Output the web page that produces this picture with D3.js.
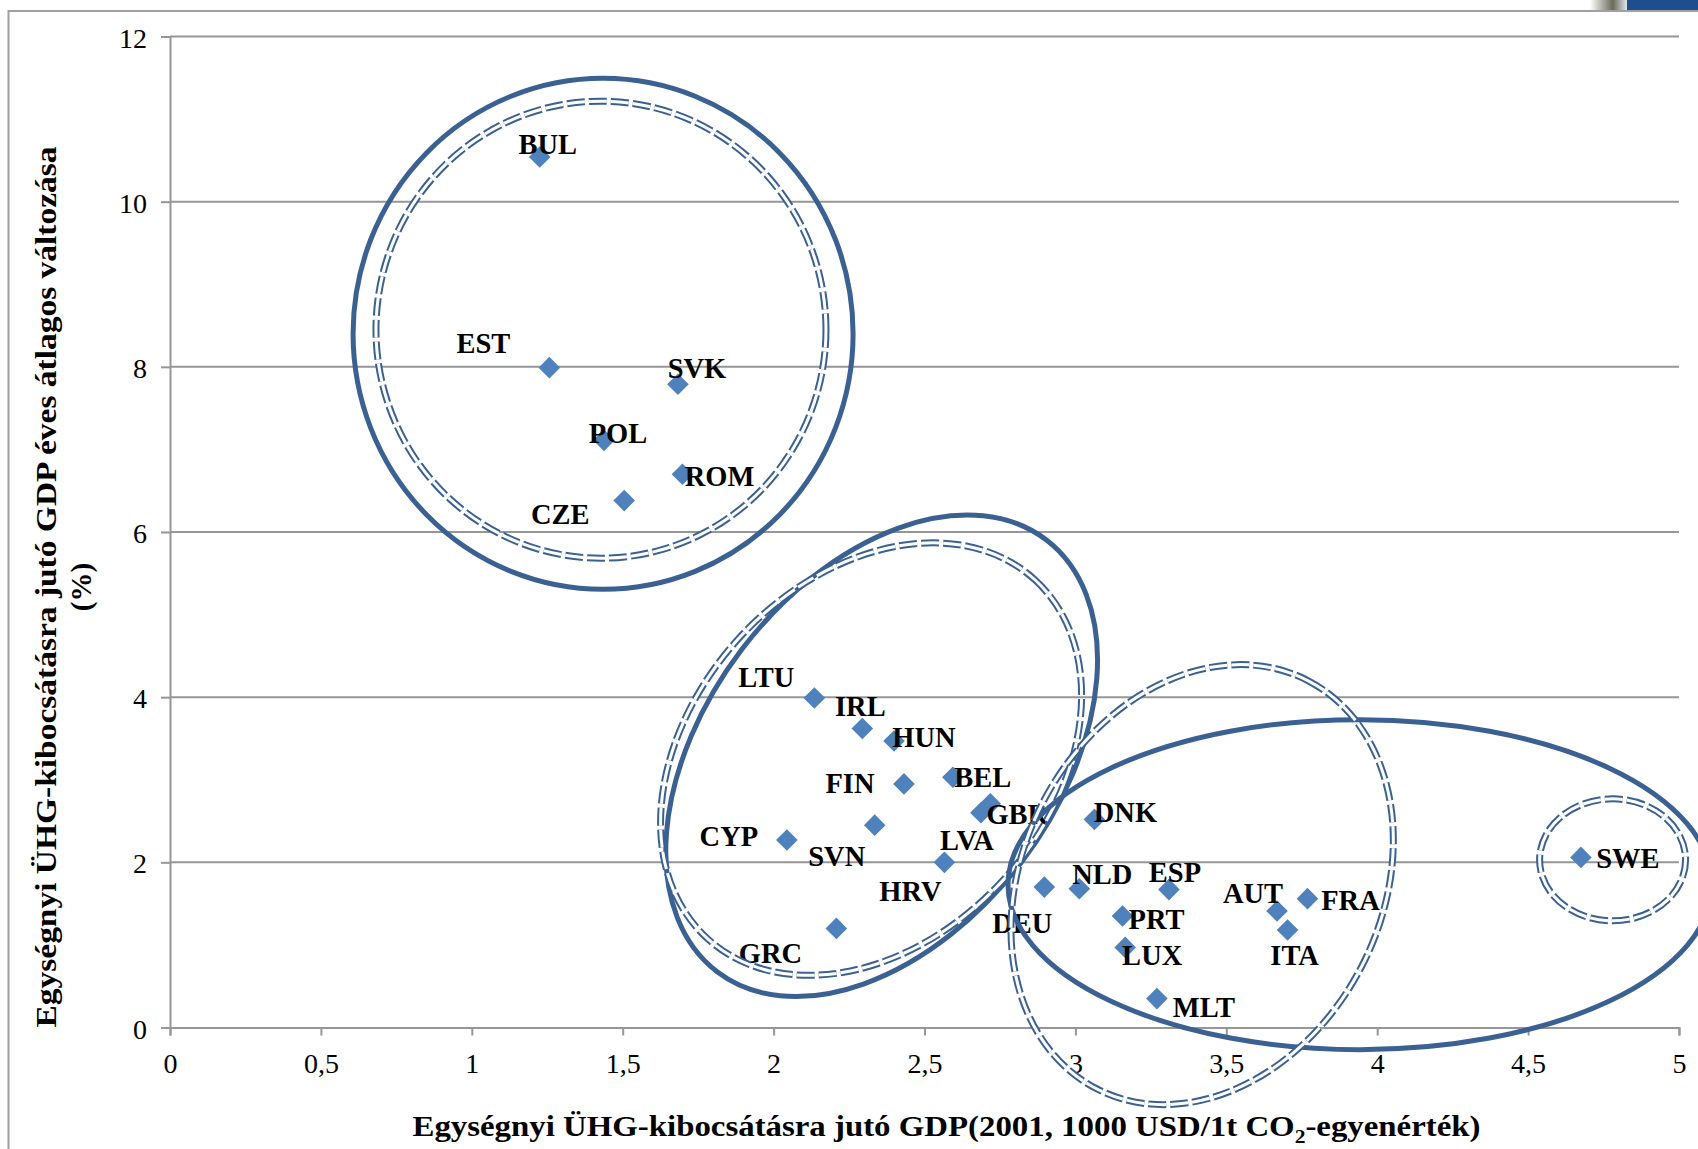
<!DOCTYPE html>
<html>
<head>
<meta charset="utf-8">
<script src="https://cdn.jsdelivr.net/npm/d3@7"></script>
<style>
  html, body { margin: 0; padding: 0; background: #ffffff; }
  svg { display: block; }
</style>
</head>
<body>
<div id="chart"></div>
<script>
// ---- data ----
const countries = ["BUL","EST","SVK","POL","ROM","CZE","LTU","IRL","HUN","FIN","BEL","GBR","LVA","CYP","SVN","HRV","GRC","DEU","NLD","DNK","ESP","PRT","LUX","MLT","AUT","FRA","ITA","SWE"];
const gdpPerGhg = [1.225,1.257,1.683,1.438,1.698,1.505,2.135,2.294,2.399,2.432,2.594,2.718,2.687,2.044,2.335,2.566,2.208,2.897,3.013,3.063,3.310,3.156,3.165,3.270,3.668,3.769,3.703,4.675];
const gdpChange = [10.54,7.99,7.79,7.11,6.70,6.38,3.99,3.62,3.47,2.95,3.03,2.71,2.60,2.27,2.45,2.00,1.20,1.70,1.68,2.52,1.67,1.35,0.97,0.35,1.41,1.56,1.18,2.06];
const xTicks = [0,0.5,1,1.5,2,2.5,3,3.5,4,4.5,5];
const yTicks = [0,2,4,6,8,10,12];
const xTickLabels = ["0","0,5","1","1,5","2","2,5","3","3,5","4","4,5","5"];
const yTickLabels = ["0","2","4","6","8","10","12"];
const xTitle = ["Egységnyi ÜHG-kibocsátásra jutó GDP(2001, 1000 USD/1t CO", "2", "-egyenérték)"];
const yTitle = ["Egységnyi ÜHG-kibocsátásra jutó GDP éves átlagos változása", "(%)"];

// ---- layout (label offsets in px, group ellipses) ----
const labelOffset = {
  BUL:[8,-14], EST:[-66,-25], SVK:[19,-17], POL:[14,-8], ROM:[37,1], CZE:[-64,13],
  LTU:[-48,-22], IRL:[-2,-23], HUN:[30,-4], FIN:[-54,-1], BEL:[30,-1], GBR:[27,10],
  LVA:[-14,27], CYP:[-58,-5], SVN:[-38,30], HRV:[-34,28], GRC:[-66,24], DEU:[-22,35],
  NLD:[23,-15], DNK:[31,-8], ESP:[6,-18], PRT:[34,2], LUX:[27,7], MLT:[47,8],
  AUT:[-24,-19], FRA:[43,1], ITA:[7,24], SWE:[47,0]
};
// centre in data units, radii in px, rotation in degrees
const groupShapes = [
  {cx:1.435, cy:8.40, rx:250, ry:255.5, rot:0, dashed:false},
  {cx:1.428, cy:8.45, rx:225, ry:228.5, rot:0, dashed:true},
  {cx:2.358, cy:3.29, rx:271.5, ry:175.7, rot:-52.7, dashed:false},
  {cx:2.323, cy:3.25, rx:242.9, ry:179.1, rot:-47.6, dashed:true},
  {cx:3.943, cy:1.73, rx:352, ry:165, rot:0, dashed:false},
  {cx:3.420, cy:1.73, rx:229.8, ry:179.3, rot:-62.5, dashed:true},
  {cx:4.780, cy:2.03, rx:73, ry:61, rot:0, dashed:true}
];

const W = 1698, H = 1149;
const plotL = 170, plotR = 1679, plotT = 36.5, plotB = 1027.5;
const serif = "'Liberation Serif','Times New Roman',serif";
const ink = "#3B6193";

const svg = d3.select("#chart").append("svg")
  .attr("width", W).attr("height", H)
  .attr("viewBox", `0 0 ${W} ${H}`);

svg.append("rect").attr("width", W).attr("height", H).attr("fill", "#fff");

// top-right fragment
const grad = svg.append("defs").append("linearGradient").attr("id","lg");
grad.append("stop").attr("offset","0%").attr("stop-color","#ffffff");
grad.append("stop").attr("offset","60%").attr("stop-color","#6b6b5a");
grad.append("stop").attr("offset","100%").attr("stop-color","#e8eef6");
svg.append("rect").attr("x",1590).attr("y",0).attr("width",38).attr("height",10).attr("fill","url(#lg)");
svg.append("rect").attr("x",1627).attr("y",0).attr("width",71).attr("height",10).attr("fill","#1d4f8f");

// chart frame
svg.append("rect").attr("x", 8.5).attr("y", 11).attr("width", 1720).attr("height", 1160)
  .attr("fill", "none").attr("stroke", "#a0a0a0").attr("stroke-width", 2);

const x = d3.scaleLinear().domain([0, 5]).range([plotL, plotR]);
const y = d3.scaleLinear().domain([0, 12]).range([plotB, plotT]);

// gridlines
svg.append("g").selectAll("line").data(yTicks.filter(d => d > 0)).join("line")
  .attr("x1", plotL).attr("x2", plotR)
  .attr("y1", d => y(d)).attr("y2", d => y(d))
  .attr("stroke", "#969696").attr("stroke-width", 2);

// y axis
const yAxis = d3.axisLeft(y).tickValues(yTicks).tickFormat((d, i) => yTickLabels[i]).tickSize(9).tickPadding(14);
const gy = svg.append("g").attr("transform", `translate(${plotL},0)`).call(yAxis);
gy.select(".domain").attr("stroke", "#969696").attr("stroke-width", 2);
gy.selectAll(".tick line").attr("stroke", "#969696").attr("stroke-width", 2);
gy.selectAll(".tick text").attr("font-family", serif).attr("font-size", 28).attr("fill", "#000")
  .attr("dy", "0.38em");

// x axis
const xAxis = d3.axisBottom(x).tickValues(xTicks).tickFormat((d, i) => xTickLabels[i]).tickSize(8).tickPadding(18);
const gx = svg.append("g").attr("transform", `translate(0,${plotB})`).call(xAxis);
gx.select(".domain").attr("stroke", "#969696").attr("stroke-width", 2);
gx.selectAll(".tick line").attr("stroke", "#969696").attr("stroke-width", 2);
gx.selectAll(".tick text").attr("font-family", serif).attr("font-size", 28).attr("fill", "#000");

// points
const pts = countries.map((c, i) => ({c, x: gdpPerGhg[i], y: gdpChange[i]}));
svg.append("g").selectAll("path").data(pts).join("path")
  .attr("d", "M0,-10.8L10.8,0L0,10.8L-10.8,0Z")
  .attr("transform", d => `translate(${x(d.x)},${y(d.y)})`)
  .attr("fill", "#4F81BD");

// labels
svg.append("g").selectAll("text").data(pts).join("text")
  .attr("transform", d => `translate(${x(d.x) + labelOffset[d.c][0]},${y(d.y) + labelOffset[d.c][1]}) scale(0.95,1)`)
  .attr("text-anchor", "middle").attr("dy", "0.35em")
  .attr("font-family", serif).attr("font-weight", "bold").attr("font-size", 30)
  .attr("fill", "#000").text(d => d.c);

// group ellipses
const gs = svg.append("g");
groupShapes.forEach(s => {
  const t = `translate(${x(s.cx)},${y(s.cy)}) rotate(${s.rot})`;
  if (!s.dashed) {
    gs.append("ellipse").attr("transform", t).attr("rx", s.rx).attr("ry", s.ry)
      .attr("fill", "none").attr("stroke", ink).attr("stroke-width", 5);
  } else {
    gs.append("ellipse").attr("transform", t).attr("rx", s.rx).attr("ry", s.ry)
      .attr("fill", "none").attr("stroke", ink).attr("stroke-width", 7).attr("stroke-dasharray", "18,4");
    gs.append("ellipse").attr("transform", t).attr("rx", s.rx).attr("ry", s.ry)
      .attr("fill", "none").attr("stroke", "#fff").attr("stroke-width", 3).attr("stroke-dasharray", "18,4");
  }
});

// axis titles
const xt = svg.append("text")
  .attr("x", 946.5).attr("y", 1136)
  .attr("text-anchor", "middle")
  .attr("font-family", serif).attr("font-weight", "bold").attr("font-size", 29)
  .attr("textLength", 1068).attr("lengthAdjust", "spacingAndGlyphs")
  .attr("fill", "#000");
xt.append("tspan").text(xTitle[0]);
xt.append("tspan").attr("font-size", 19).attr("dy", 7).text(xTitle[1]);
xt.append("tspan").attr("dy", -7).text(xTitle[2]);

svg.append("text")
  .attr("transform", "translate(56,587) rotate(-90)")
  .attr("text-anchor", "middle")
  .attr("font-family", serif).attr("font-weight", "bold").attr("font-size", 29)
  .attr("textLength", 881).attr("lengthAdjust", "spacingAndGlyphs")
  .attr("fill", "#000").text(yTitle[0]);
svg.append("text")
  .attr("transform", "translate(91,587) rotate(-90)")
  .attr("text-anchor", "middle")
  .attr("font-family", serif).attr("font-weight", "bold").attr("font-size", 29)
  .attr("fill", "#000").text(yTitle[1]);
</script>
</body>
</html>
